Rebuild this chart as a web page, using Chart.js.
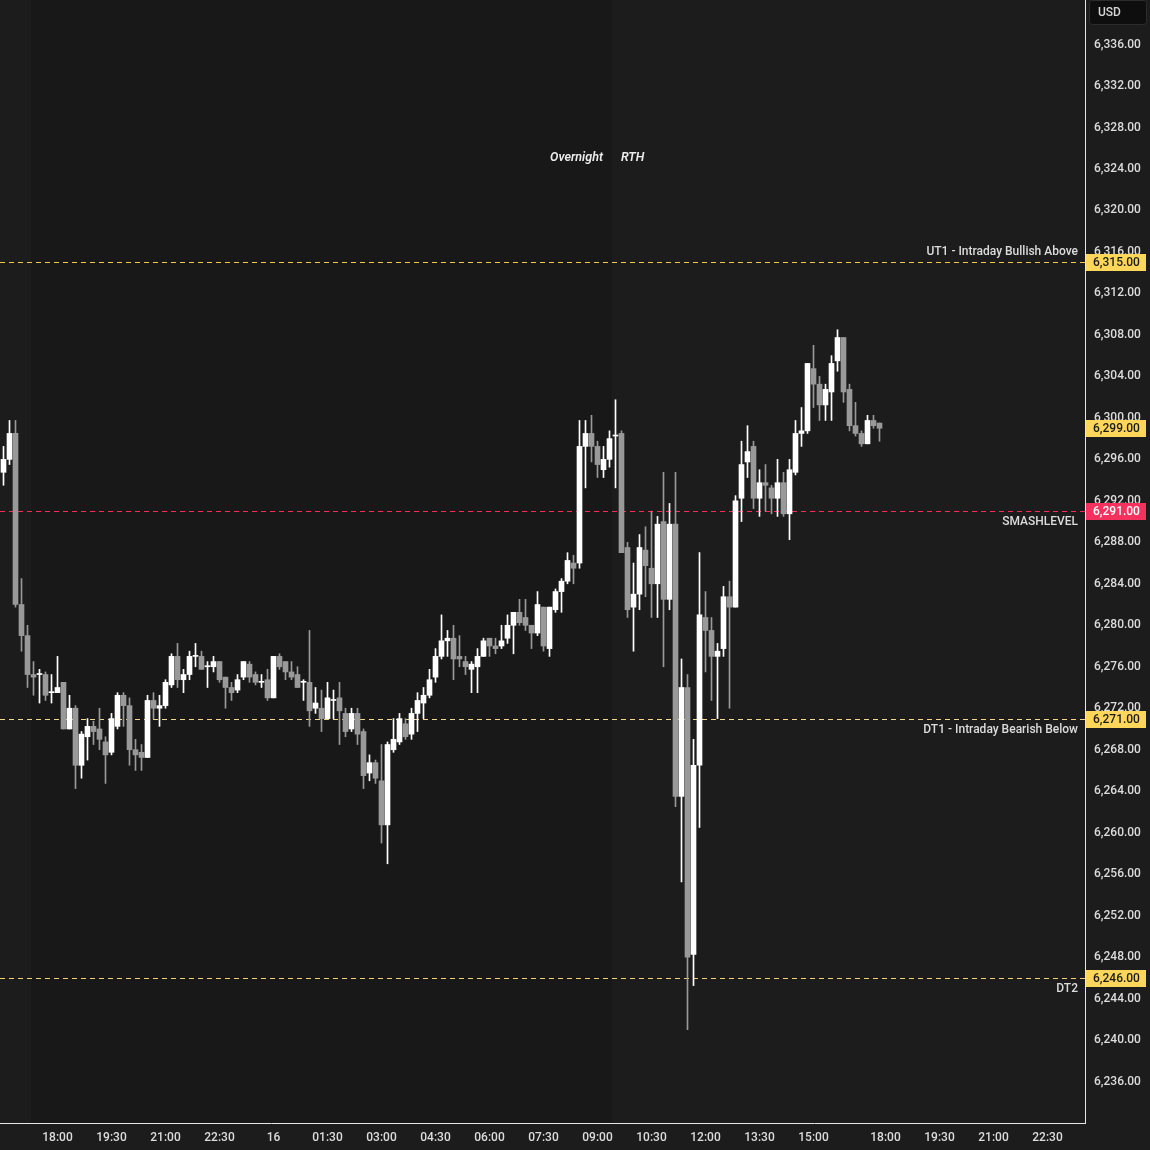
<!DOCTYPE html>
<html>
<head>
<meta charset="utf-8">
<script src="https://cdn.jsdelivr.net/npm/chart.js@4.4.1/dist/chart.umd.min.js"></script>
<style>
  html, body { margin: 0; padding: 0; background: #1c1c1c; }
  #wrap { width: 1150px; height: 1150px; position: relative; }
</style>
</head>
<body>
<div id="wrap"><canvas id="chart"></canvas></div>
<script>
// 10 minute candles, slot 0 = 18:00 (session open), slot -1 = 16:50 previous day
const firstSlot = -9;

const opens = [
  6294.75, 6296, 6298.5, 6282, 6279, 6275.25, 6275.25, 6275.25, 6273.5,
  6273.5, 6274.5, 6270, 6272, 6266.5, 6269.25, 6270.25, 6270, 6268.75, 6267.75,
  6270.25, 6273.25, 6272.25, 6268, 6267.75, 6267.25, 6272.75, 6272, 6272.25, 6274.25,
  6277, 6274.75, 6275.25, 6277, 6277, 6276, 6276, 6276.5, 6275, 6274,
  6273.75, 6275, 6276.25, 6275.25, 6274.5, 6274.75, 6273, 6277, 6276.5, 6275.5,
  6275.25, 6274.5, 6274.5, 6272, 6272, 6271, 6272.75, 6273, 6271.5, 6270,
  6271.5, 6269.75, 6265.75, 6266.75, 6265, 6260.75, 6268, 6268.75, 6270.5, 6269.5,
  6271.5, 6272.5, 6273.25, 6275, 6277, 6278.5, 6278.75, 6277, 6276.5, 6275.75,
  6276, 6277, 6278.75, 6278, 6278, 6278.75, 6280, 6281.25, 6280.75, 6280,
  6279.25, 6281.75, 6277.75, 6281.5, 6283.25, 6284.25, 6286, 6286, 6297.25, 6298.5,
  6297.25, 6295, 6296, 6298.25, 6298.5, 6287.5, 6281.75, 6283, 6287.25, 6285.5,
  6284, 6290, 6282.5, 6289.75, 6263.5, 6274, 6248.25, 6266.5, 6280.75, 6279.5,
  6277, 6277.75, 6282.75, 6281.75, 6292.25, 6295.75, 6297.25, 6292.25, 6293.75, 6293.25,
  6292.25, 6293.75, 6290.75, 6294.75, 6298.5, 6298.75, 6304.75, 6303.25, 6301.25, 6302.5,
  6305.5, 6307.75, 6302.75, 6299.25, 6298.5, 6297.5, 6299.75, 6299.5
];
const highs = [
  6297.25, 6299.75, 6299.75, 6284.5, 6280, 6276.5, 6275.75, 6275.5, 6275.25,
  6277, 6274.5, 6273.25, 6272.25, 6269.75, 6271, 6270.75, 6272, 6269.25, 6271.5,
  6273.5, 6273.5, 6273, 6269, 6268.5, 6273.25, 6273.5, 6273.25, 6274.75, 6277.25,
  6278.25, 6275.75, 6277.5, 6278.25, 6277.5, 6276.5, 6277, 6276.5, 6275, 6274.5,
  6275.25, 6276.5, 6276.5, 6275.5, 6275.25, 6275.75, 6277, 6277.25, 6276.5, 6276.5,
  6276, 6274.75, 6279.5, 6274, 6273.75, 6274.5, 6273.75, 6274.5, 6272, 6272,
  6272, 6270, 6267.5, 6267, 6268.5, 6268.75, 6271, 6271.5, 6271, 6272,
  6273.5, 6274, 6275.75, 6277.75, 6281, 6279.5, 6280, 6279, 6277, 6276.5,
  6277.75, 6278.75, 6278.75, 6278.75, 6280, 6281, 6281.25, 6282.5, 6282.5, 6280,
  6283.25, 6281.75, 6281.75, 6283.5, 6284.5, 6287, 6286.75, 6299.75, 6299.75, 6300.25,
  6297.75, 6297.25, 6298.75, 6301.75, 6298.75, 6288, 6286, 6288.75, 6289.5, 6291,
  6290.5, 6294.75, 6291.75, 6294.75, 6276.75, 6275.25, 6269, 6287, 6283.25, 6280.75,
  6278.25, 6283.75, 6284.25, 6292.5, 6297.75, 6299.25, 6297.75, 6295, 6295.5, 6293.5,
  6296, 6294.75, 6296, 6299.75, 6301, 6305.25, 6307, 6304, 6303.25, 6306,
  6308.5, 6307.75, 6303.25, 6301.5, 6298.75, 6300.25, 6300.25, 6299.5
];
const lows = [
  6293.5, 6295.5, 6281.75, 6277.5, 6274, 6273.25, 6272.5, 6272.75, 6272.5,
  6273.5, 6270, 6270, 6264.25, 6265.25, 6267, 6268.5, 6268, 6264.75, 6267.5,
  6270, 6270.25, 6266.5, 6266, 6266, 6267.25, 6271, 6270.25, 6272, 6274,
  6274, 6273.5, 6274.75, 6276, 6275.75, 6274, 6275.5, 6274.5, 6272, 6272.75,
  6273.5, 6274.75, 6274.5, 6274.25, 6274, 6272.75, 6273, 6275.75, 6274.75, 6274.75,
  6274, 6272.75, 6270.25, 6271.5, 6269.75, 6271, 6271, 6268.5, 6269.25, 6269.75,
  6268.5, 6264.25, 6265, 6264.75, 6259, 6257, 6267.75, 6268.5, 6269, 6269,
  6269.75, 6271, 6273, 6274.5, 6276.75, 6277, 6274.75, 6276, 6275.25, 6273.5,
  6273.5, 6277, 6277, 6277.25, 6277.75, 6278.25, 6277.25, 6280, 6279.5, 6277.75,
  6279, 6277.5, 6277, 6281.25, 6281.25, 6284, 6284, 6285.5, 6293.25, 6295.75,
  6294.25, 6294.25, 6295.25, 6293.25, 6287, 6280.75, 6277.5, 6281.5, 6282.75, 6280.75,
  6280.75, 6276, 6281.5, 6262.5, 6255.25, 6241, 6245.25, 6260.5, 6275.5, 6272.75,
  6271, 6277, 6272, 6281.75, 6290, 6294.25, 6291.25, 6290.5, 6291, 6290.75,
  6290.5, 6290.5, 6288.25, 6294.5, 6297.25, 6298.5, 6301, 6299.75, 6299.75, 6299.75,
  6304.5, 6301.5, 6298.75, 6298.25, 6297.25, 6297.5, 6299, 6297.75
];
const closes = [
  6296, 6298.5, 6282, 6279, 6275.25, 6275, 6275.25, 6273.25, 6273.5,
  6274, 6270, 6272, 6266.5, 6269.5, 6270.25, 6269.75, 6269, 6267.5, 6271,
  6273.25, 6272.25, 6268, 6267.5, 6267.25, 6272.75, 6272, 6272.25, 6274.5, 6277,
  6274.75, 6275.25, 6277, 6277, 6275.75, 6276, 6276.5, 6274.75, 6274, 6273.5,
  6274.75, 6276.5, 6275, 6274.5, 6274.5, 6273, 6277, 6276, 6275.5, 6275,
  6274, 6274.5, 6271.75, 6272.5, 6271, 6273, 6272.75, 6271.75, 6269.75, 6271.5,
  6269.5, 6265.5, 6266.75, 6265.25, 6260.75, 6268.5, 6269, 6271, 6269.25, 6271.5,
  6272.75, 6273.25, 6274.75, 6277, 6278.5, 6278.75, 6276.75, 6276.75, 6276, 6276.25,
  6277, 6278.5, 6278, 6277.75, 6278.5, 6280, 6281.25, 6280.25, 6280, 6279.25,
  6282, 6278, 6281.75, 6283.25, 6284.25, 6286.25, 6285.5, 6297.25, 6298.5, 6297.25,
  6295.5, 6296, 6298, 6298.25, 6287, 6281.5, 6283, 6287.5, 6285.75, 6284,
  6289.75, 6282.5, 6289.75, 6263.5, 6274, 6248, 6266.5, 6281, 6279.5, 6277,
  6277.5, 6282.75, 6281.75, 6292, 6295.5, 6296.75, 6292.25, 6293.75, 6293.5, 6292.25,
  6293.75, 6290.75, 6295, 6298.5, 6298.75, 6305.25, 6303.25, 6301.25, 6302.75, 6305.25,
  6307.75, 6302.5, 6299.25, 6298.5, 6297.5, 6299.75, 6299.25, 6299
];

const tickSlots = [0, 9, 18, 27, 36, 45, 54, 63, 72, 81, 90, 99, 108, 117, 126, 138, 147, 156, 165];
const tickLabels = ['18:00', '19:30', '21:00', '22:30', '16', '01:30', '03:00', '04:30', '06:00', '07:30',
  '09:00', '10:30', '12:00', '13:30', '15:00', '18:00', '19:30', '21:00', '22:30'];
const priceTicks = [6236, 6240, 6244, 6248, 6252, 6256, 6260, 6264, 6268, 6272, 6276, 6280, 6284, 6288,
  6292, 6296, 6300, 6304, 6308, 6312, 6316, 6320, 6324, 6328, 6332, 6336];

const levelPrices = [6315, 6291, 6271, 6246];
const levelNames = ['UT1 - Intraday Bullish Above', 'SMASHLEVEL', 'DT1 - Intraday Bearish Below', 'DT2'];
const lastPrice = closes[closes.length - 1];

// session boundaries (in slots): overnight runs from 16:15 to 09:30
const overnightStart = -4.5;
const rthStart = 92.5;

// styles
const UP = '#ffffff';
const DOWN = '#999999';
const levelLineColors = ['#f7c843', '#ff2a58', '#f3d98c', '#f5d070'];
const levelBoxColors = ['#fdd65a', '#f5315e', '#fdd65a', '#fdd65a'];
const levelBoxText = ['#1b1b1b', '#ffffff', '#1b1b1b', '#1b1b1b'];
const levelTextAbove = [true, false, false, false];

const FONT = 'Roboto, "Open Sans", sans-serif';
Chart.defaults.font.family = FONT;
Chart.defaults.font.size = 12;
Chart.defaults.color = '#dcdcdc';

const slots = opens.map((o, i) => firstSlot + i);
const candleColors = opens.map((o, i) => closes[i] >= o ? UP : DOWN);
const wickData = slots.map((s, i) => ({ x: s, y: [lows[i], highs[i]] }));
const bodyData = slots.map((s, i) => ({ x: s, y: [Math.min(opens[i], closes[i]), Math.max(opens[i], closes[i])] }));

function fmt(v) {
  return v.toLocaleString('en-US', { minimumFractionDigits: 2, maximumFractionDigits: 2 });
}

const backdrop = {
  id: 'backdrop',
  beforeDraw(chart) {
    const { ctx, chartArea: a, scales: { x } } = chart;
    ctx.save();
    ctx.fillStyle = '#1c1c1c';
    ctx.fillRect(0, 0, chart.width, chart.height);
    const x1 = Math.round(x.getPixelForValue(overnightStart));
    const x2 = Math.round(x.getPixelForValue(rthStart));
    ctx.fillStyle = '#181818';
    ctx.fillRect(x1, a.top, x2 - x1, a.bottom - a.top);

    ctx.font = 'italic 600 12.5px ' + FONT;
    ctx.fillStyle = '#ececec';
    ctx.textBaseline = 'middle';
    ctx.textAlign = 'right';
    ctx.fillText('Overnight', x2 - 9, a.top + 158);
    ctx.textAlign = 'left';
    ctx.fillText('RTH', x2 + 9, a.top + 158);
    ctx.restore();
  },
  beforeDatasetsDraw(chart) {
    const { ctx, chartArea: a, scales: { y } } = chart;
    ctx.save();
    levelPrices.forEach((p, i) => {
      const py = Math.round(y.getPixelForValue(p)) + 0.5;
      ctx.strokeStyle = levelLineColors[i];
      ctx.lineWidth = 1;
      ctx.setLineDash([5, 4]);
      ctx.beginPath();
      ctx.moveTo(a.left, py);
      ctx.lineTo(a.right, py);
      ctx.stroke();
      ctx.setLineDash([]);
      ctx.font = '500 12px ' + FONT;
      ctx.fillStyle = '#dcdcdc';
      ctx.textAlign = 'right';
      ctx.textBaseline = 'middle';
      ctx.fillText(levelNames[i], a.right - 7, levelTextAbove[i] ? py - 11 : py + 10);
    });
    ctx.restore();
  },
  afterDraw(chart) {
    const { ctx, chartArea: a, scales: { y } } = chart;
    ctx.save();
    const box = (p, fill, txt) => {
      const py = Math.round(y.getPixelForValue(p));
      ctx.fillStyle = fill;
      ctx.fillRect(a.right + 1, py - 8, 60, 17);
      ctx.fillStyle = txt;
      ctx.font = '500 12px ' + FONT;
      ctx.textAlign = 'left';
      ctx.textBaseline = 'middle';
      ctx.fillText(fmt(p), a.right + 8, py + 1);
    };
    levelPrices.forEach((p, i) => box(p, levelBoxColors[i], levelBoxText[i]));
    box(lastPrice, '#fdd65a', '#1b1b1b');

    // currency badge
    ctx.fillStyle = '#0e0e0e';
    ctx.strokeStyle = '#2c2c2c';
    ctx.lineWidth = 1;
    ctx.beginPath();
    ctx.roundRect(a.right + 4.5, 0.5, 57, 24, 3);
    ctx.fill();
    ctx.stroke();
    ctx.fillStyle = '#d6d6d6';
    ctx.font = '500 12px ' + FONT;
    ctx.textAlign = 'left';
    ctx.textBaseline = 'middle';
    ctx.fillText('USD', a.right + 13, 13);
    ctx.restore();
  }
};

new Chart(document.getElementById('chart'), {
  type: 'bar',
  data: {
    datasets: [
      { data: wickData, backgroundColor: candleColors, barThickness: 1, grouped: false, order: 2 },
      { data: bodyData, backgroundColor: candleColors, barThickness: 5, grouped: false, minBarLength: 1, order: 1 }
    ]
  },
  options: {
    responsive: true,
    maintainAspectRatio: false,
    animation: false,
    layout: { padding: 0 },
    plugins: { legend: { display: false }, tooltip: { enabled: false } },
    scales: {
      x: {
        type: 'linear',
        offset: false,
        min: -57.5 / 6,
        max: (1085 - 57.5) / 6,
        grid: { display: false, drawTicks: false },
        border: { display: true, color: '#e6e6e6', width: 1 },
        afterBuildTicks: (scale) => { scale.ticks = tickSlots.map(v => ({ value: v })); },
        afterFit: (scale) => { scale.height = 27; scale.paddingLeft = 0; scale.paddingRight = 0; },
        ticks: {
          autoSkip: false,
          maxRotation: 0,
          padding: 8,
          color: '#dcdcdc',
          font: { size: 12, weight: '500' },
          callback: (v) => tickLabels[tickSlots.indexOf(v)]
        }
      },
      y: {
        position: 'right',
        min: 6232.0,
        max: 6340.3,
        grid: { display: false, drawTicks: false },
        border: { display: true, color: '#e6e6e6', width: 1 },
        afterBuildTicks: (scale) => { scale.ticks = priceTicks.map(v => ({ value: v })); },
        afterFit: (scale) => { scale.width = 65; scale.paddingTop = 0; scale.paddingBottom = 0; },
        ticks: {
          padding: 9,
          color: '#dcdcdc',
          font: { size: 12, weight: '500' },
          callback: (v) => fmt(v)
        }
      }
    }
  },
  plugins: [backdrop]
});
</script>
</body>
</html>
